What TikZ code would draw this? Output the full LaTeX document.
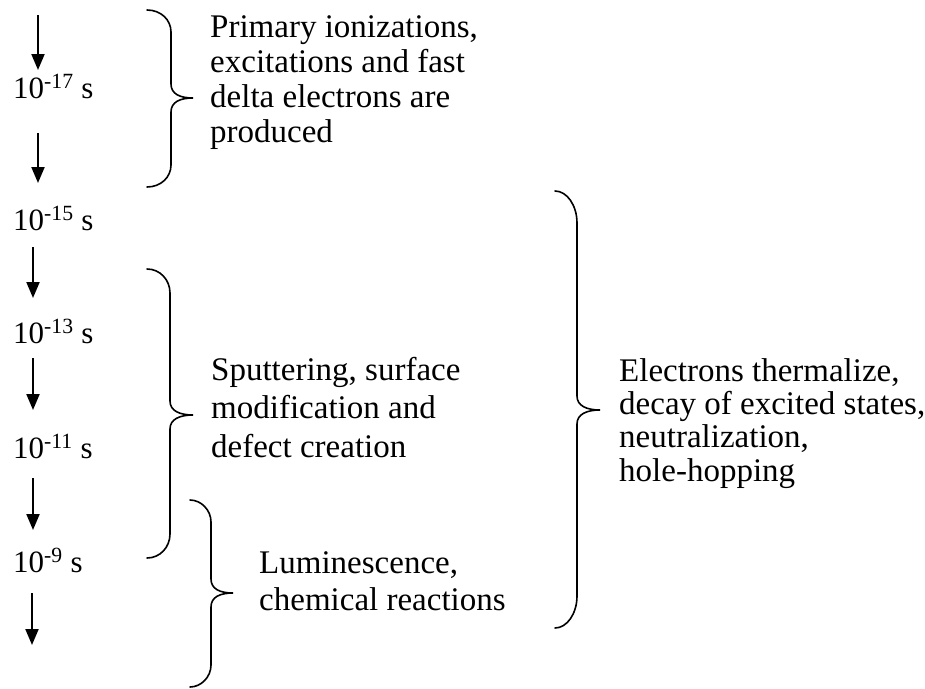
\documentclass[tikz,border=0pt]{standalone}
\usepackage{fontspec}
\setmainfont{Liberation Serif}
\usetikzlibrary{arrows.meta}
\tikzset{
  lbl/.style={anchor=base west, inner sep=0pt, font=\fontsize{31}{35}\selectfont},
  txt/.style={anchor=base west, inner sep=0pt, font=\fontsize{33}{37}\selectfont},
  arr/.style={line width=2pt, -{Triangle[width=13pt,length=16pt]}},
  bracestyle/.style={line width=1.6pt, line cap=round}
}
% #1 xl, #2 xv, #3 xt, #4 yt, #5 ym, #6 yb, #7 end curl height
\newcommand\drawbrace[7]{%
  \draw[bracestyle] (#1,#4) .. controls (#2-10,#4) and (#2,#4+#7*0.45) .. (#2,#4+#7)
    -- (#2,#5-14) .. controls (#2,#5-4) and (#3-13,#5) .. (#3,#5)
    .. controls (#3-13,#5) and (#2,#5+4) .. (#2,#5+14)
    -- (#2,#6-#7) .. controls (#2,#6-#7*0.45) and (#2-10,#6) .. (#1,#6);}
\begin{document}
\begin{tikzpicture}[x=1pt,y=-1pt]
\useasboundingbox (0,0) rectangle (925,688);
% time labels
\node[lbl] (t17) at (13,98) {10\textsuperscript{-17} s};
\node[lbl] (t15) at (13,230) {10\textsuperscript{-15} s};
\node[lbl] (t13) at (13,343) {10\textsuperscript{-13} s};
\node[lbl] (t11) at (13,458) {10\textsuperscript{-11} s};
\node[lbl] (t9) at (13,572) {10\textsuperscript{-9} s};
% arrows
\coordinate (a1s) at (38,15);  \coordinate (a1e) at (38,70);
\coordinate (a2s) at (38,133); \coordinate (a2e) at (38,183);
\coordinate (a3s) at (33,247); \coordinate (a3e) at (33,298);
\coordinate (a4s) at (33,358); \coordinate (a4e) at (33,410);
\coordinate (a5s) at (33,478); \coordinate (a5e) at (33,530);
\coordinate (a6s) at (32,593); \coordinate (a6e) at (32,645);
\draw[arr] (a1s) -- (a1e);
\draw[arr] (a2s) -- (a2e);
\draw[arr] (a3s) -- (a3e);
\draw[arr] (a4s) -- (a4e);
\draw[arr] (a5s) -- (a5e);
\draw[arr] (a6s) -- (a6e);
% braces
\drawbrace{147}{171}{193}{10}{98}{187}{22}
\drawbrace{147}{170}{193}{269}{415}{558}{24}
\drawbrace{190}{211}{233}{500}{593}{687}{22}
\drawbrace{555}{577}{600}{191}{410}{628}{32}
% texts
\node[txt] (p1) at (210,37) {Primary ionizations,};
\node[txt] (p2) at (210,72) {excitations and fast};
\node[txt] (p3) at (210,107) {delta electrons are};
\node[txt] (p4) at (210,142) {produced};
\node[txt] (s1) at (211,380) {Sputtering, surface};
\node[txt] (s2) at (211,418) {modification and};
\node[txt] (s3) at (211,457) {defect creation};
\node[txt] (l1) at (259,573) {Luminescence,};
\node[txt] (l2) at (259,610) {chemical reactions};
\node[txt] (e1) at (619,381) {Electrons thermalize,};
\node[txt] (e2) at (619,414) {decay of excited states,};
\node[txt] (e3) at (619,447) {neutralization,};
\node[txt] (e4) at (619,481) {hole-hopping};
\end{tikzpicture}
\end{document}
